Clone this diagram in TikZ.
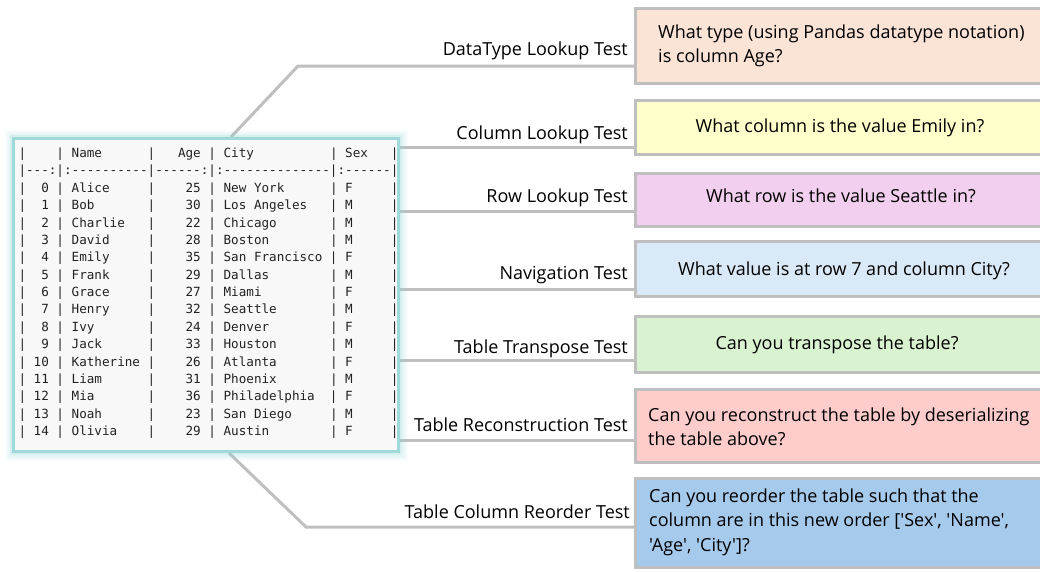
\documentclass[tikz,border=0pt]{standalone}
\usepackage{fontspec}
\newfontfamily\qf{Open Sans}
\setmonofont{DejaVu Sans Mono}
\definecolor{linegray}{HTML}{BFBFBF}
\definecolor{tealb}{HTML}{9FDADA}
\definecolor{tealglow}{HTML}{8FD3D3}
\definecolor{tblbg}{HTML}{F8F8F8}
\definecolor{tbltext}{HTML}{222222}
\definecolor{cpeach}{HTML}{FBE3D6}
\definecolor{cyellow}{HTML}{FFFFCC}
\definecolor{cviolet}{HTML}{F2CEEF}
\definecolor{clblue}{HTML}{DAE9F7}
\definecolor{cgreen}{HTML}{D9F2D0}
\definecolor{cpink}{HTML}{FFCCCC}
\definecolor{cblue}{HTML}{A6CAEC}
\newlength\chw
\newcommand\trow[5]{|\makebox[4\chw][r]{#1\hspace{\chw}}|\hspace{\chw}\makebox[10\chw][l]{#2}|\makebox[6\chw][r]{#3}\hspace{\chw}|\hspace{\chw}\makebox[14\chw][l]{#4}|\hspace{\chw}\makebox[6\chw][l]{#5}|}
\tikzset{
  conn/.style={draw=linegray, line width=3pt, line join=miter},
  qbox/.style={draw=linegray, line width=3pt, anchor=north west, minimum width=407.5pt, inner sep=0pt},
  qtext/.style={font=\qf\fontsize{18}{24.5}\selectfont, inner sep=0pt, text=black},
  lbl/.style={font=\qf\fontsize{18}{22}\selectfont, inner sep=0pt, anchor=east, text=black},
  tblbox/.style={fill=tblbg, draw=tealb, line width=3pt, minimum width=385pt, minimum height=313pt, inner sep=0pt},
}
\begin{document}
\begin{tikzpicture}[x=1pt,y=-1pt]
\useasboundingbox (0,0) rectangle (1040,571);
\fill[white] (0,0) rectangle (1040,571);
% question boxes
\node[qbox, fill=cpeach, minimum height=75pt] (q1) at (634,7) {};
\node[qbox, fill=cyellow, minimum height=54pt] (q2) at (634,99) {};
\node[qbox, fill=cviolet, minimum height=53pt] (q3) at (634,172) {};
\node[qbox, fill=clblue, minimum height=55pt] (q4) at (634,240) {};
\node[qbox, fill=cgreen, minimum height=56pt] (q5) at (634,315) {};
\node[qbox, fill=cpink, minimum height=73pt] (q6) at (634,388) {};
\node[qbox, fill=cblue, minimum height=89pt] (q7) at (634,477) {};
\node[qtext, anchor=west, align=left] (t1) at (658,46) {What type (using Pandas datatype notation)\\is column Age?};
\node[qtext] (t2) at (840,128) {What column is the value Emily in?};
\node[qtext] (t3) at (841,196) {What row is the value Seattle in?};
\node[qtext] (t4) at (844,271) {What value is at row 7 and column City?};
\node[qtext] (t5) at (837,345) {Can you transpose the table?};
\node[qtext, anchor=west, align=left] (t6) at (648,427) {Can you reconstruct the table by deserializing\\the table above?};
\node[qtext, anchor=west, align=left] (t7) at (649,522) {Can you reorder the table such that the\\column are in this new order ['Sex', 'Name',\\'Age', 'City']?};
% table frame (geometry only, for anchors)
\path (206,295) node[minimum width=388pt, minimum height=316pt, inner sep=0pt, outer sep=0pt] (tbl) {};
% connectors
\draw[conn] (tbl.north -| 231,0) -- (298,66) -- (q1.west |- 0,66);
\draw[conn] (tbl.east |- 0,147) -- (q2.west |- 0,147);
\draw[conn] (tbl.east |- 0,211) -- (q3.west |- 0,211);
\draw[conn] (tbl.east |- 0,289) -- (q4.west |- 0,289);
\draw[conn] (tbl.east |- 0,360) -- (q5.west |- 0,360);
\draw[conn] (tbl.east |- 0,440) -- (q6.west |- 0,440);
\draw[conn] (tbl.south -| 229,0) -- (306,527) -- (q7.west |- 0,527);
% labels
\node[lbl] (l1) at (628,51) {DataType Lookup Test};
\node[lbl] (l2) at (628,135) {Column Lookup Test};
\node[lbl] (l3) at (628,198) {Row Lookup Test};
\node[lbl] (l4) at (628,275) {Navigation Test};
\node[lbl] (l5) at (628,349) {Table Transpose Test};
\node[lbl] (l6) at (628,425) {Table Reconstruction Test};
\node[lbl] (l7) at (630,512) {Table Column Reorder Test};
% glow of the table
\foreach \w/\o in {18/0.06, 14/0.08, 10/0.10, 7/0.14} {
  \draw[tealglow, line width=\w pt, opacity=\o] (13.5,138.5) rectangle (398.5,451.5);
}
\node[tblbox] (tblframe) at (206,295) {};
\node[anchor=west, inner sep=0pt, align=left, text=tbltext,
      font=\ttfamily\fontsize{12.62}{17.375}\selectfont] (tbltxt) at (18.3,293.2) {%
\setbox0\hbox{0}\global\chw=\wd0\relax\trow{}{Name}{Age}{City}{Sex}\\
|---:|:----------|------:|:--------------|:------|\\
\trow{0}{Alice}{25}{New York}{F}\\
\trow{1}{Bob}{30}{Los Angeles}{M}\\
\trow{2}{Charlie}{22}{Chicago}{M}\\
\trow{3}{David}{28}{Boston}{M}\\
\trow{4}{Emily}{35}{San Francisco}{F}\\
\trow{5}{Frank}{29}{Dallas}{M}\\
\trow{6}{Grace}{27}{Miami}{F}\\
\trow{7}{Henry}{32}{Seattle}{M}\\
\trow{8}{Ivy}{24}{Denver}{F}\\
\trow{9}{Jack}{33}{Houston}{M}\\
\trow{10}{Katherine}{26}{Atlanta}{F}\\
\trow{11}{Liam}{31}{Phoenix}{M}\\
\trow{12}{Mia}{36}{Philadelphia}{F}\\
\trow{13}{Noah}{23}{San Diego}{M}\\
\trow{14}{Olivia}{29}{Austin}{F}};
\end{tikzpicture}
\end{document}
